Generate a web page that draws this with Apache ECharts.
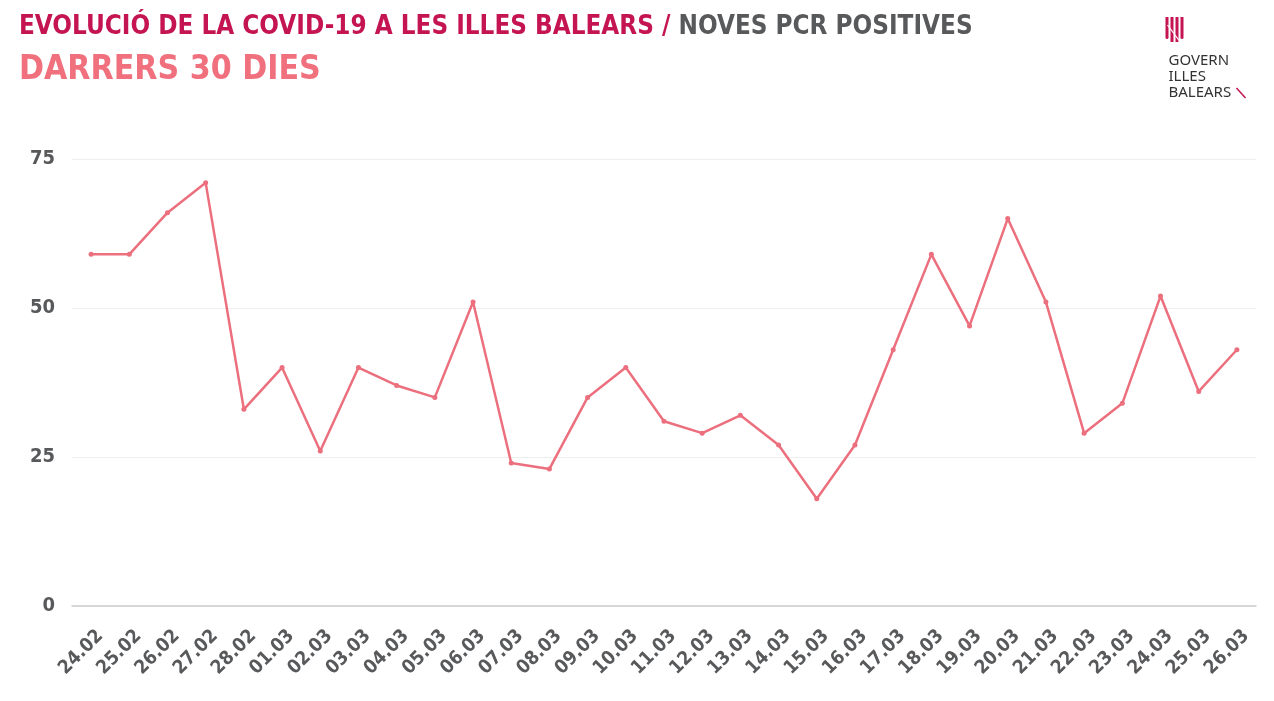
<!DOCTYPE html>
<html><head><meta charset="utf-8">
<script src="https://cdn.jsdelivr.net/npm/echarts@6/dist/echarts.min.js"></script>
<style>html,body{margin:0;padding:0;background:#fff}#c{width:1274px;height:701px}</style>
</head><body><div id="c"></div>
<script>
const categories = ["24.02","25.02","26.02","27.02","28.02","01.03","02.03","03.03","04.03","05.03","06.03","07.03","08.03","09.03","10.03","11.03","12.03","13.03","14.03","15.03","16.03","17.03","18.03","19.03","20.03","21.03","22.03","23.03","24.03","25.03","26.03"];
const pcrPositives = [59,59,66,71,33,40,26,40,37,35,51,24,23,35,40,31,29,32,27,18,27,43,59,47,65,51,29,34,52,36,43];
const yTicks = [0,25,50,75];

const chart = echarts.init(document.getElementById('c'));
const FONT = '"DejaVu Sans Condensed", "DejaVu Sans", sans-serif';
chart.setOption({
  backgroundColor:'#fff',
  animation:false,
  title:[{
    left:19, top:14, padding:0,
    text:'{a|EVOLUCIÓ DE LA COVID-19 A LES ILLES BALEARS / }{b|NOVES PCR POSITIVES}',
    textStyle:{rich:{
      a:{fontFamily:FONT,fontWeight:'bold',fontSize:25.8,color:'#c41552'},
      b:{fontFamily:FONT,fontWeight:'bold',fontSize:25.8,color:'#58595b'}
    }}
  },{
    left:19, top:53, padding:0,
    text:'DARRERS 30 DIES',
    textStyle:{fontFamily:FONT,fontWeight:'bold',fontSize:33.5,color:'#f0707e'}
  }],
  graphic:[
    {type:'group',left:1165,top:17,children:[
      {type:'rect',shape:{x:0,y:0,width:3,height:22,r:[0,0,2,2]},style:{fill:'#c41552'}},
      {type:'rect',shape:{x:5,y:0,width:3,height:25},style:{fill:'#c41552'}},
      {type:'rect',shape:{x:10,y:0,width:3,height:25},style:{fill:'#c41552'}},
      {type:'rect',shape:{x:15,y:0,width:3,height:22,r:[0,0,2,2]},style:{fill:'#c41552'}},
      {type:'line',shape:{x1:2,y1:8,x2:14,y2:24},style:{stroke:'#fff',lineWidth:1.2}},
      {type:'text',x:3,y:36,style:{text:'GOVERN\nILLES\nBALEARS',fontFamily:'"Noto Sans", sans-serif',fontSize:15,lineHeight:16,fill:'#333'}},
      {type:'line',shape:{x1:71,y1:71,x2:80,y2:81},style:{stroke:'#c41552',lineWidth:1.5}}
    ]}
  ],
  grid:{left:72,right:18,top:159,bottom:95},
  xAxis:{
    type:'category',data:categories,boundaryGap:true,
    axisLine:{lineStyle:{color:'#cccccc',width:1.5}},
    axisTick:{show:false},
    axisLabel:{rotate:45,interval:0,fontFamily:FONT,fontWeight:'bold',fontSize:19,color:'#58595b',
      margin:18,verticalAlign:'top',lineHeight:26}
  },
  yAxis:{
    type:'value',min:0,max:75,interval:25,
    axisLine:{show:false},axisTick:{show:false},
    splitLine:{lineStyle:{color:'#eeeeee',width:1}},
    axisLabel:{fontFamily:FONT,fontWeight:'bold',fontSize:20,color:'#58595b',margin:17,
      formatter:v=>yTicks.includes(v)?String(v):''}
  },
  series:[{
    type:'line',data:pcrPositives,
    lineStyle:{color:'#ec6f7d',width:2.5},
    itemStyle:{color:'#ec6f7d'},
    symbol:'circle',symbolSize:5,showSymbol:true
  }]
});
</script></body></html>
